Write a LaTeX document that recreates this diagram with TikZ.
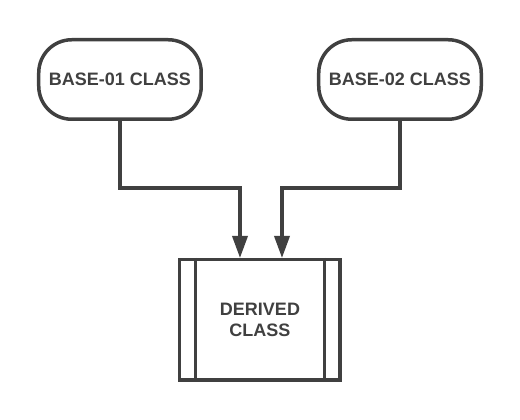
\documentclass[tikz,border=0pt]{standalone}
\usepackage{fontspec}
\setmainfont{Liberation Sans}
\usepackage{xcolor}
\usepackage{tikz}
\usetikzlibrary{positioning}
\usetikzlibrary{arrows.meta}

\definecolor{inkgray}{HTML}{404040}

\begin{document}
\begin{tikzpicture}[node distance=1cm,on grid,
      line width=3.5pt, draw=inkgray,
      every node/.style={font=\fontsize{18}{21}\selectfont\bfseries, text=inkgray},
      basebox/.style={draw=inkgray, rounded corners=33pt, minimum width=162.5pt, minimum height=79.5pt},
      derivedbox/.style={draw=inkgray, minimum width=160.5pt, minimum height=120.5pt, align=center},
      link/.style={draw=inkgray, -{Triangle[length=22pt,width=15pt]}}]

      \useasboundingbox (-260pt,-100pt) rectangle (260pt,320pt);

      \node[derivedbox] (derived) {DERIVED\\CLASS};
      \node[basebox] (base01) [above left=240.5pt and 140pt of derived] {BASE-01 CLASS};
      \node[basebox] (base02) [above right=240.5pt and 140pt of derived] {BASE-02 CLASS};

      \draw[inkgray] ([xshift=17.5pt]derived.north west) -- ([xshift=17.5pt]derived.south west);
      \draw[inkgray] ([xshift=-17.5pt]derived.north east) -- ([xshift=-17.5pt]derived.south east);

      \coordinate (in01) at ([xshift=-20pt]derived.north);
      \coordinate (in02) at ([xshift=22pt]derived.north);

      \path[link]
        (base01.south) -- ++(0,-67pt) -| (in01);
      \path[link]
        (base02.south) -- ++(0,-67pt) -| (in02);

    \end{tikzpicture}
\end{document}
